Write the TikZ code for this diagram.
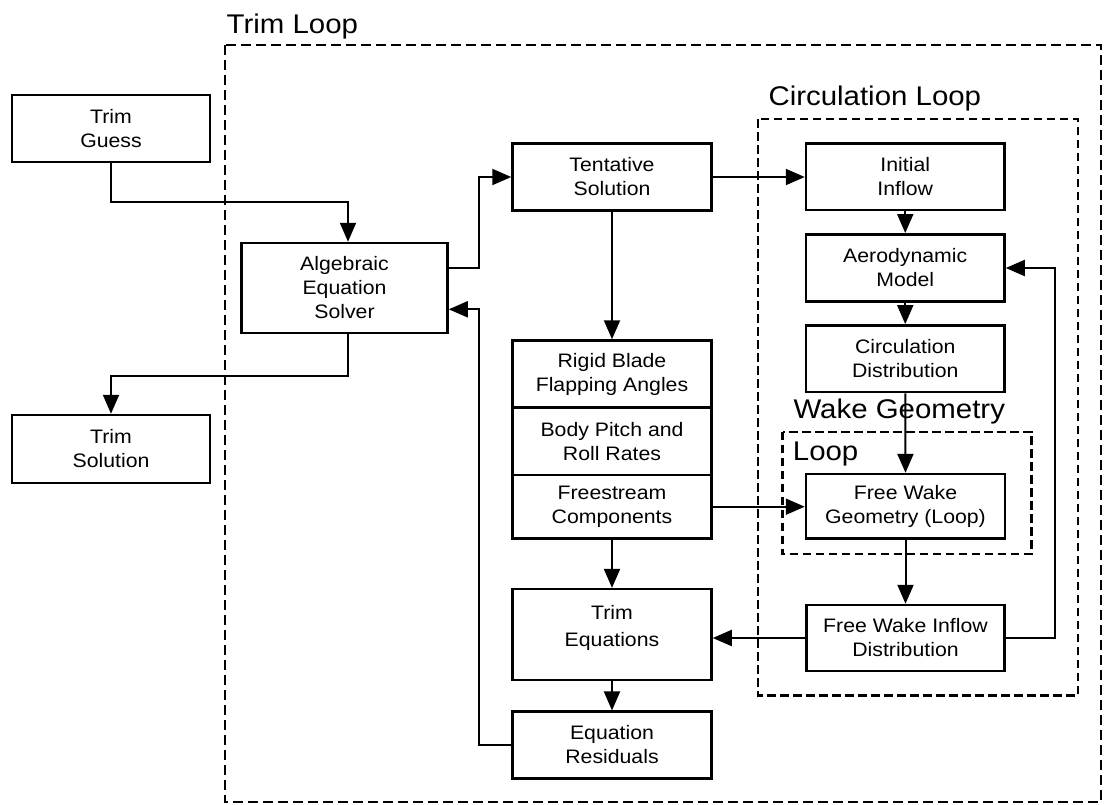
\documentclass[tikz,border=0pt]{standalone}
\usepackage{fontspec}
\usetikzlibrary{arrows.meta,calc}
\newfontfamily\diagfam[FakeStretch=1.09]{Liberation Sans}
\newcommand\bxfont{\diagfam\fontsize{19.5}{24}\selectfont}
\newcommand\lblfont{\diagfam\fontsize{27}{32}\selectfont}
\tikzset{
  blk/.style={draw, line width=2.5pt, inner sep=0pt, align=center, font=\bxfont},
  arr/.style={line width=2pt, -{Triangle[length=19pt,width=16pt]}},
  trimloop/.style={line width=2.6pt, dash pattern=on 10pt off 5pt},
  innerloop/.style={line width=2.2pt, dash pattern=on 8.5pt off 4.5pt},
  looplabel/.style={anchor=base west, inner sep=0pt, font=\lblfont}
}
\begin{document}
\begin{tikzpicture}[x=1pt,y=-1pt]
\useasboundingbox (0,0) rectangle (1112,804);

% loop frames
\draw[trimloop] (225,45) rectangle (1101,802);
\draw[innerloop] (758.3,119.3) rectangle (1078,695.5);
\draw[innerloop] (782.5,431.7) rectangle (1031.5,554.3);

% loop titles
\node[looplabel] (lbltrim) at (226.5,33.3) {Trim Loop};
\node[looplabel] (lblcirc) at (768.3,105) {Circulation Loop};
\node[looplabel] (lblwake) at (793.3,418.3) {Wake Geometry};
\node[looplabel] (lblwloop) at (792.7,460) {Loop};

% outer trim blocks
\node[blk, minimum width=198pt, minimum height=67pt] (guess) at (111,128.5) {Trim\\Guess};
\node[blk, minimum width=198pt, minimum height=68pt] (solution) at (111,449) {Trim\\Solution};
\node[blk, minimum width=206pt, minimum height=90pt] (solver) at (344.5,288) {Algebraic\\Equation\\Solver};

% middle column
\node[blk, minimum width=199pt, minimum height=67pt] (tent) at (612,177) {Tentative\\Solution};
\node[blk, minimum width=199pt, minimum height=67pt] (rigid) at (612,374) {Rigid Blade\\Flapping Angles};
\node[blk, minimum width=199pt, minimum height=67.5pt] (body) at (612,441.25) {Body Pitch and\\Roll Rates};
\node[blk, minimum width=199pt, minimum height=63.3pt] (free) at (612,506.7) {Freestream\\Components};
\node[blk, minimum width=199pt, minimum height=91pt,
      label={[align=center, inner sep=0pt, yshift=6.5pt,
              font=\diagfam\fontsize{19.5}{26.7}\selectfont]center:{Trim\\Equations}}]
      (treq) at (612,634.6) {};
\node[blk, minimum width=199pt, minimum height=66.6pt] (resid) at (612,745) {Equation\\Residuals};

% circulation column
\node[blk, minimum width=198.5pt, minimum height=66.7pt] (init) at (905.25,176.7) {Initial\\Inflow};
\node[blk, minimum width=198.5pt, minimum height=67.4pt] (aero) at (905.25,268) {Aerodynamic\\Model};
\node[blk, minimum width=198.5pt, minimum height=66.7pt] (circ) at (905.25,358.7) {Circulation\\Distribution};
\node[blk, minimum width=199pt, minimum height=64.3pt] (fwg) at (905.5,506.2) {Free Wake\\Geometry (Loop)};
\node[blk, minimum width=198pt, minimum height=66pt] (fwi) at (905.5,638) {Free Wake Inflow\\Distribution};

% routing points
\coordinate (g1) at (348,202);
\coordinate (s1) at (348,375.7);
\coordinate (t1) at (478.6,268.3);
\coordinate (r1) at (478.6,309.3);
\coordinate (f1) at (1055,0);

% trim loop connectors
\draw[arr] (guess.south) |- (g1) -- (g1 |- solver.north);
\draw[arr] (s1 |- solver.south) -- (s1) -| (solution.north);
\draw[arr] (t1 -| solver.east) -- (t1) |- (tent.west);
\draw[arr] (resid.west) -| (r1) -- (r1 -| solver.east);
\draw[arr] (tent.south) -- (rigid.north);
\draw[arr] (free.south) -- (treq.north);
\draw[arr] (treq.south) -- (resid.north);

% circulation loop connectors
\draw[arr] (tent.east) -- (tent.east -| init.west);
\draw[arr] (init.south) -- (aero.north);
\draw[arr] (aero.south) -- (circ.north);
\draw[arr] (circ.south) -- (fwg.north);
\draw[arr] (fwg.south) -- (fwi.north);
\draw[arr] (free.east) -- (free.east -| fwg.west);
\draw[arr] (fwi.west) -- (fwi.west -| treq.east);
\draw[arr] (fwi.east) -| (f1 |- aero.east) -- (aero.east);
\end{tikzpicture}
\end{document}
